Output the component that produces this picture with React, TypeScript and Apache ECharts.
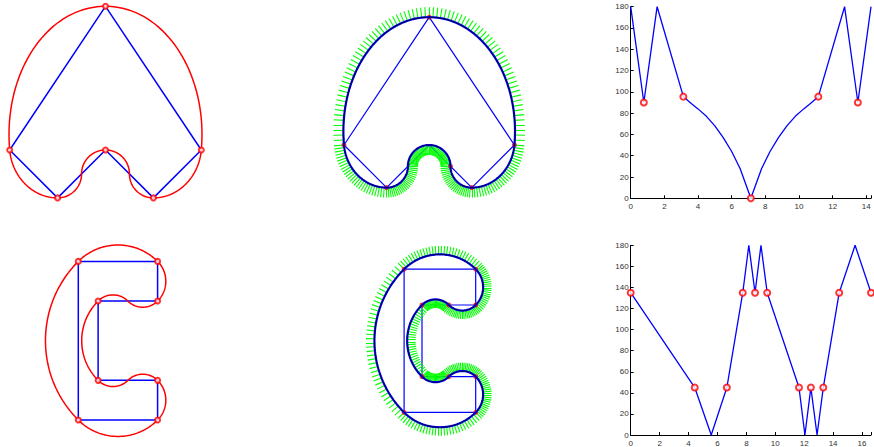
import { useEffect, useRef } from "react";
import * as echarts from "echarts";

// Control polygons: heart (top row) and C shape (bottom row)
const heartX = [-2, 0, 2, 1, 0, -1];
const heartY = [0, 3, 0, -1, 0, -1];
const cX = [0, 2, 2, 0.5, 0.5, 2, 2, 0];
const cY = [0, 0, 1, 1, 3, 3, 4, 4];

// Knots of the arc-based curves and their tangent directions (degrees)
const heartKnotX = [0, -0.5, -1, -2, 0, 2, 1, 0.5];
const heartKnotY = [0, -0.5, -1, 0, 3, 0, -1, -0.5];
const heartKnotDir = [180, 270, 180, 95, 0, -95, 180, 90];
const heartDotX = [-2, 0, 2, 1, 0.5, -1];
const heartDotY = [0, 3, 0, -1, -0.5, -1];

const cKnotX = [0, 0, 2, 2, 1.25, 0.5, 0.5, 1.25, 2, 2];
const cKnotY = [0, 4, 4, 3, 3, 3, 1, 1, 1, 0];
const cKnotDir = [135, 45, -45, -135, 135, -135, -45, 45, -45, -135];

// Tangent angle (degrees) against arc length
const heartArc = [0, 0.78, 1.57, 3.13, 3.6, 4.0, 4.5, 5.0, 5.5, 6.0, 6.5, 7.14, 7.78, 8.28, 8.78, 9.28, 9.78, 10.28, 10.68, 11.15, 12.71, 13.5, 14.28];
const heartAngle = [180, 90, 180, 95.5, 89, 84, 77, 68, 57, 44, 28, 0, 28, 44, 57, 68, 77, 84, 89, 95.5, 180, 90, 180];
const heartMarkArc = [0.78, 3.13, 7.14, 11.15, 13.5];
const heartMarkAngle = [90, 95.5, 0, 95.5, 90];

const cArc = [0, 4.43, 5.57, 6.65, 7.75, 8.17, 8.6, 9.01, 9.44, 11.64, 12.05, 12.46, 12.89, 13.32, 14.42, 15.52, 16.62];
const cAngle = [135, 45, 0, 45, 135, 180, 135, 180, 135, 45, 0, 45, 0, 45, 135, 180, 135];
const cMarkArc = [0, 4.43, 6.65, 7.75, 8.6, 9.44, 11.64, 12.46, 13.32, 14.42, 16.62];
const cMarkAngle = [135, 45, 45, 135, 135, 135, 45, 45, 45, 135, 135];

type Pt = [number, number];

// Curve made of conic-like cubic pieces between knots with given tangents,
// plus its outward normal field
function knotCurve(kx: number[], ky: number[], kd: number[], unitPx: number, spike: number) {
  const n = kx.length;
  const curve: Pt[] = [];
  const spikes: Pt[][] = [];
  const rad = Math.PI / 180;
  for (let i = 0; i < n; i++) {
    const j = (i + 1) % n;
    const A: Pt = [kx[i], ky[i]];
    const B: Pt = [kx[j], ky[j]];
    const uA: Pt = [Math.cos(kd[i] * rad), Math.sin(kd[i] * rad)];
    const uB: Pt = [Math.cos(kd[j] * rad), Math.sin(kd[j] * rad)];
    const dx = B[0] - A[0];
    const dy = B[1] - A[1];
    const det = uA[0] * uB[1] - uA[1] * uB[0];
    const a = (dx * uB[1] - dy * uB[0]) / det;
    const b = (uA[0] * dy - uA[1] * dx) / det;
    let turn = (kd[j] - kd[i]) % 360;
    if (turn > 180) turn -= 360;
    if (turn <= -180) turn += 360;
    const phi = Math.abs(turn) * rad;
    const k = ((4 / 3) * Math.tan(phi / 4)) / Math.tan(phi / 2);
    const P0 = A;
    const P1: Pt = [A[0] + k * a * uA[0], A[1] + k * a * uA[1]];
    const P2: Pt = [B[0] - k * b * uB[0], B[1] - k * b * uB[1]];
    const P3 = B;
    const bez = (t: number): Pt => {
      const s = 1 - t;
      return [
        s * s * s * P0[0] + 3 * s * s * t * P1[0] + 3 * s * t * t * P2[0] + t * t * t * P3[0],
        s * s * s * P0[1] + 3 * s * s * t * P1[1] + 3 * s * t * t * P2[1] + t * t * t * P3[1],
      ];
    };
    const der = (t: number): Pt => {
      const s = 1 - t;
      return [
        3 * s * s * (P1[0] - P0[0]) + 6 * s * t * (P2[0] - P1[0]) + 3 * t * t * (P3[0] - P2[0]),
        3 * s * s * (P1[1] - P0[1]) + 6 * s * t * (P2[1] - P1[1]) + 3 * t * t * (P3[1] - P2[1]),
      ];
    };
    let len = 0;
    let prev = bez(0);
    for (let q = 1; q <= 60; q++) {
      const p = bez(q / 60);
      len += Math.hypot(p[0] - prev[0], p[1] - prev[1]);
      prev = p;
      curve.push(bez((q - 1) / 60));
    }
    const m = Math.round(18 + (len * unitPx) / 7.5);
    for (let q = 0; q < m; q++) {
      const t = q / m;
      const p = bez(t);
      const d = der(t);
      const dl = Math.hypot(d[0], d[1]);
      const nx = -d[1] / dl;
      const ny = d[0] / dl;
      spikes.push([p, [p[0] + spike * nx, p[1] + spike * ny]]);
    }
  }
  curve.push(curve[0]);
  return { curve, spikes };
}

const closePoly = (xs: number[], ys: number[]): Pt[] => {
  const p: Pt[] = xs.map((x, i) => [x, ys[i]] as Pt);
  p.push(p[0]);
  return p;
};

interface Frame { left: number; top: number; width: number; height: number; ox: number; oy: number; unit: number }

const frames: Frame[] = [
  { left: 0, top: 0, width: 220, height: 215, ox: 105.5, oy: 150, unit: 47.9 },
  { left: 0, top: 222, width: 220, height: 225, ox: 78.3, oy: 420, unit: 39.65 },
  { left: 300, top: 0, width: 250, height: 215, ox: 429.2, oy: 145, unit: 42.6 },
  { left: 300, top: 222, width: 250, height: 225, ox: 404.1, oy: 412.4, unit: 35.8 },
];

export default function App() {
  const ref = useRef<HTMLDivElement>(null);
  useEffect(() => {
    if (!ref.current) return;
    const chart = echarts.init(ref.current, undefined, { renderer: "svg" });

    const grid: any[] = [];
    const xAxis: any[] = [];
    const yAxis: any[] = [];
    frames.forEach((f) => {
      grid.push({ left: f.left, top: f.top, width: f.width, height: f.height });
      xAxis.push({ type: "value", gridIndex: grid.length - 1, show: false, min: (f.left - f.ox) / f.unit, max: (f.left + f.width - f.ox) / f.unit });
      yAxis.push({ type: "value", gridIndex: grid.length - 1, show: false, min: (f.oy - (f.top + f.height)) / f.unit, max: (f.oy - f.top) / f.unit });
    });

    const labelStyle = { fontSize: 8, color: "#333", fontFamily: "Liberation Sans, Arial, sans-serif" };
    const axisLine = { show: true, lineStyle: { color: "#000", width: 1 } };
    const axisTick = { show: true, inside: true, length: 3, lineStyle: { color: "#000" } };
    const plotSpecs = [
      { top: 6.7, height: 191.6, max: 14.28, pxPerUnit: 17.04 },
      { top: 245.3, height: 191.7, max: 16.62, pxPerUnit: 14.69 },
    ];
    plotSpecs.forEach((p) => {
      grid.push({ left: 630.7, top: p.top, width: p.max * p.pxPerUnit, height: p.height });
      const gi = grid.length - 1;
      xAxis.push({
        type: "value", gridIndex: gi, min: 0, max: p.max, interval: 2,
        axisLine, axisTick, splitLine: { show: false },
        axisLabel: { ...labelStyle, margin: 4, formatter: (v: number) => (Math.abs(v - Math.round(v)) < 1e-6 && Math.round(v) % 2 === 0 ? String(Math.round(v)) : "") },
      });
      yAxis.push({
        type: "value", gridIndex: gi, min: 0, max: 180, interval: 20,
        axisLine, axisTick, splitLine: { show: false },
        axisLabel: { ...labelStyle, margin: 2 },
      });
    });

    const series: any[] = [];
    const line = (ai: number, data: Pt[], color: string, width: number, z: number) => ({
      type: "line", xAxisIndex: ai, yAxisIndex: ai, data, symbol: "none", showSymbol: false,
      lineStyle: { color, width }, clip: false, silent: true, z,
    });

    const heartCurve = knotCurve(heartKnotX, heartKnotY, heartKnotDir, frames[2].unit, 0.235);
    const cCurve = knotCurve(cKnotX, cKnotY, cKnotDir, frames[3].unit, 0.237);

    // Left column: control polygon with the interpolating curve
    const shapes = [
      { x: heartX, y: heartY, curve: heartCurve.curve },
      { x: cX, y: cY, curve: cCurve.curve },
    ];
    shapes.forEach((s, i) => {
      series.push(line(i, closePoly(s.x, s.y), "#0000ff", 1.5, 2));
      series.push(line(i, s.curve, "#ff0000", 1.5, 3));
      series.push({
        type: "scatter", xAxisIndex: i, yAxisIndex: i, data: s.x.map((x, k) => [x, s.y[k]]),
        symbol: "emptyCircle", symbolSize: 5, itemStyle: { color: "#ff0000", borderColor: "#ff0000", borderWidth: 1 },
        silent: true, z: 4,
      });
    });

    // Middle column: same curve with its normal comb
    const mids = [
      { ai: 2, poly: closePoly(heartX, heartY), k: heartCurve, dots: heartDotX.map((x, i) => [x, heartDotY[i]]) },
      { ai: 3, poly: closePoly(cX, cY), k: cCurve, dots: cKnotX.map((x, i) => [x, cKnotY[i]]) },
    ];
    mids.forEach((m) => {
      series.push(line(m.ai, m.poly, "#0000ff", 1.2, 1));
      series.push({
        type: "lines", coordinateSystem: "cartesian2d", xAxisIndex: m.ai, yAxisIndex: m.ai,
        data: m.k.spikes.map((s) => ({ coords: s })),
        lineStyle: { color: "#00ff00", width: 1.1, opacity: 1 }, silent: true, z: 2,
      });
      series.push({
        type: "scatter", xAxisIndex: m.ai, yAxisIndex: m.ai, data: m.dots,
        symbol: "circle", symbolSize: 5, itemStyle: { color: "#ff0000" }, silent: true, z: 3,
      });
      series.push(line(m.ai, m.k.curve, "#0000ff", 2.2, 4));
      series.push(line(m.ai, m.k.curve, "#000030", 0.9, 5));
    });

    // Right column: tangent angle against arc length
    const plots = [
      { ai: 4, s: heartArc, v: heartAngle, ms: heartMarkArc, mv: heartMarkAngle },
      { ai: 5, s: cArc, v: cAngle, ms: cMarkArc, mv: cMarkAngle },
    ];
    plots.forEach((p) => {
      series.push({
        type: "line", xAxisIndex: p.ai, yAxisIndex: p.ai, data: p.s.map((s, i) => [s, p.v[i]]),
        symbol: "none", lineStyle: { color: "#0000ff", width: 1.3 }, clip: true, silent: true, z: 2,
      });
      series.push({
        type: "scatter", xAxisIndex: p.ai, yAxisIndex: p.ai, data: p.ms.map((s, i) => [s, p.mv[i]]),
        symbol: "emptyCircle", symbolSize: 6, itemStyle: { color: "#ff0000", borderColor: "#ff0000", borderWidth: 1 },
        clip: false, silent: true, z: 3,
      });
    });

    chart.setOption({ animation: false, backgroundColor: "#ffffff", grid, xAxis, yAxis, series });
    return () => chart.dispose();
  }, []);

  return <div ref={ref} style={{ position: "fixed", left: 0, top: 0, width: 874, height: 447, background: "#fff" }} />;
}
